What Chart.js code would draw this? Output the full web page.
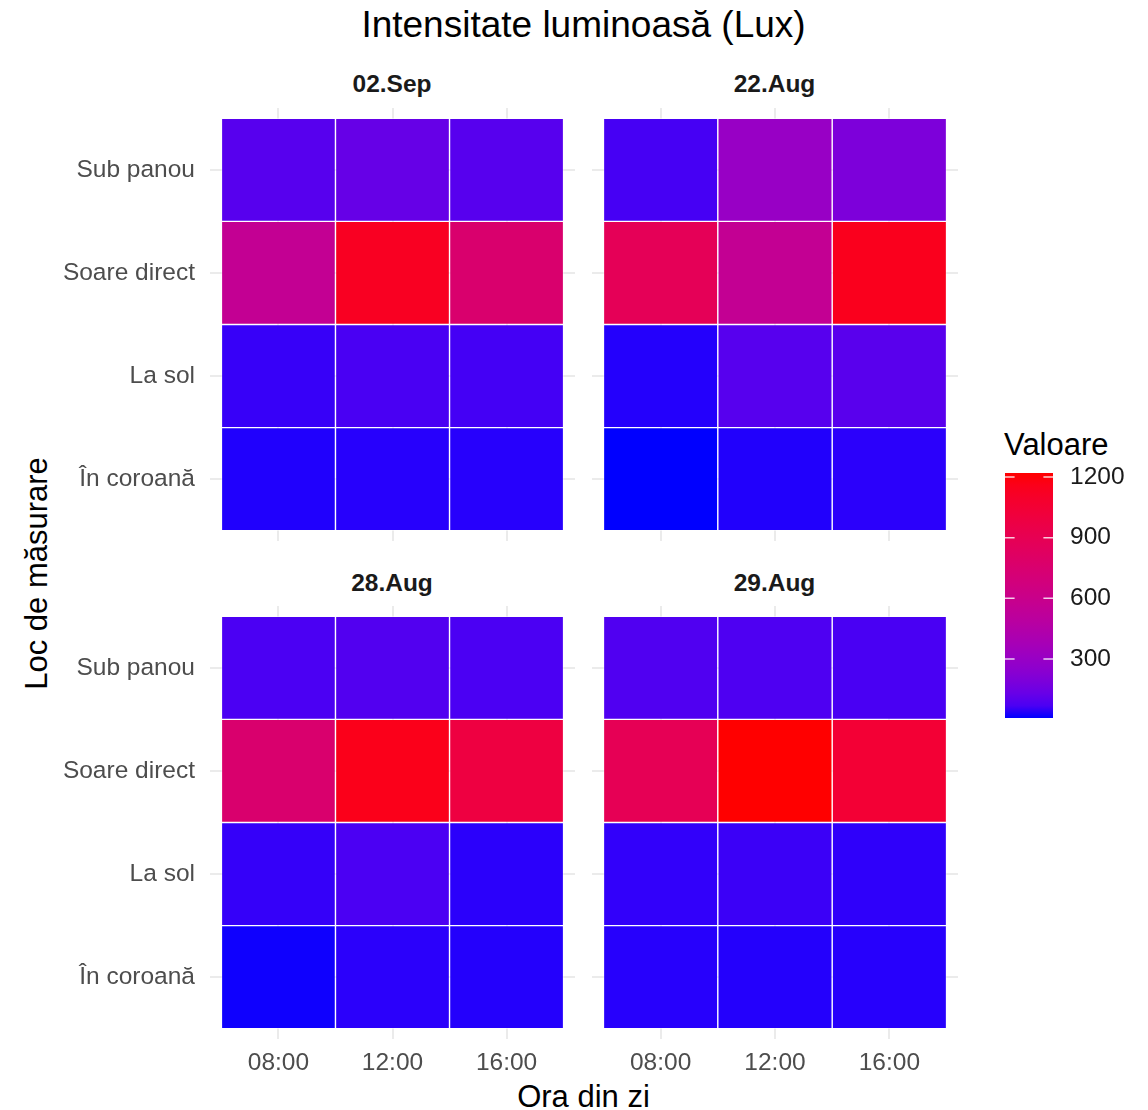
<!DOCTYPE html>
<html>
<head>
<meta charset="utf-8">
<script src="https://cdn.jsdelivr.net/npm/chart.js@4.4.1/dist/chart.umd.min.js"></script>
<style>
body { margin:0; background:#fff; width:1148px; height:1110px; position:relative; overflow:hidden;
       font-family:"Liberation Sans", Arial, sans-serif; }
.t { position:absolute; line-height:1; white-space:nowrap; }
.c { width:800px; text-align:center; }
canvas { position:absolute; }
</style>
</head>
<body>
<div class="t c" style="left:183.5px; top:6px; font-size:37px; color:#000">Intensitate luminoasă (Lux)</div>
<div class="t c" style="left:-8px; top:72.3px; font-size:24.5px; font-weight:bold; color:#1a1a1a">02.Sep</div>
<div class="t c" style="left:374.5px; top:72.3px; font-size:24.5px; font-weight:bold; color:#1a1a1a">22.Aug</div>
<div class="t c" style="left:-8px; top:570.8px; font-size:24.5px; font-weight:bold; color:#1a1a1a">28.Aug</div>
<div class="t c" style="left:374.5px; top:570.8px; font-size:24.5px; font-weight:bold; color:#1a1a1a">29.Aug</div>
<div class="t c" style="left:183.5px; top:1081px; font-size:31px; color:#000">Ora din zi</div>
<div class="t c" style="left:-363.7px; top:558px; font-size:31px; color:#000; transform:rotate(-90deg)">Loc de măsurare</div>
<div class="t" style="left:1004px; top:429px; font-size:31px; color:#000">Valoare</div>
<script>
// date (lux)
const ore = ['08:00', '12:00', '16:00'];
const locuri = ['Sub panou', 'Soare direct', 'La sol', 'În coroană'];
const zile = ['02.Sep', '22.Aug', '28.Aug', '29.Aug'];
// randuri = locuri, coloane = ore
const sep02 = [[90, 125, 90], [560, 1130, 760], [40, 65, 58], [20, 25, 25]];
const aug22 = [[60, 300, 190], [880, 560, 1150], [23, 90, 95], [8, 21, 28]];
const aug28 = [[68, 80, 68], [760, 1160, 990], [38, 68, 28], [12, 28, 23]];
const aug29 = [[77, 73, 65], [890, 1220, 1050], [35, 45, 32], [25, 23, 25]];
const legendaTicks = [300, 600, 900, 1200];

const valori = [sep02, aug22, aug28, aug29];
const F = '"Liberation Sans", Arial, sans-serif';

// gradient albastru -> rosu interpolat in Lab (ca scale_fill_gradient)
function lin(c) { c /= 255; return c <= 0.04045 ? c / 12.92 : Math.pow((c + 0.055) / 1.055, 2.4); }
function gam(c) {
    c = c <= 0.0031308 ? 12.92 * c : 1.055 * Math.pow(c, 1 / 2.4) - 0.055;
    return Math.round(Math.max(0, Math.min(1, c)) * 255);
}
function toLab(rgb) {
    let [r, g, b] = rgb.map(lin);
    let x = (0.4124 * r + 0.3576 * g + 0.1805 * b) / 0.95047;
    let y = 0.2126 * r + 0.7152 * g + 0.0722 * b;
    let z = (0.0193 * r + 0.1192 * g + 0.9505 * b) / 1.08883;
    const f = t => t > 0.008856 ? Math.cbrt(t) : 7.787 * t + 16 / 116;
    x = f(x); y = f(y); z = f(z);
    return [116 * y - 16, 500 * (x - y), 200 * (y - z)];
}
function fromLab([L, a, bb]) {
    const fy = (L + 16) / 116, fx = fy + a / 500, fz = fy - bb / 200;
    const fi = t => t ** 3 > 0.008856 ? t ** 3 : (t - 16 / 116) / 7.787;
    const x = fi(fx) * 0.95047, y = fi(fy), z = fi(fz) * 1.08883;
    return [gam(3.2406 * x - 1.5372 * y - 0.4986 * z),
            gam(-0.9689 * x + 1.8758 * y + 0.0415 * z),
            gam(0.0557 * x - 0.2040 * y + 1.0570 * z)];
}
const labLow = toLab([0, 0, 255]), labHigh = toLab([255, 0, 0]);
const toate = valori.flat(2);
const vMin = Math.min(...toate), vMax = Math.max(...toate);
function culoare(v) {
    const t = (v - vMin) / (vMax - vMin);
    return 'rgb(' + fromLab(labLow.map((l, i) => l + (labHigh[i] - l) * t)).join(',') + ')';
}

// fara padding automat din etichete
function fix(w, h) {
    return s => {
        if (w !== null) s.width = w;
        if (h !== null) s.height = h;
        s.paddingLeft = s.paddingRight = s.paddingTop = s.paddingBottom = 0;
    };
}

function panou(k, left, top, showY, showX) {
    const cv = document.createElement('canvas');
    cv.width = showY ? 575 : 366;
    cv.height = 433 + (showX ? 60 : 0);
    cv.style.left = left + 'px';
    cv.style.top = top + 'px';
    document.body.appendChild(cv);

    const pts = [], cols = [];
    valori[k].forEach((row, r) => row.forEach((v, c) => {
        pts.push({ x: c + 1, y: [r + 0.5, r + 1.5] });
        cols.push(culoare(v));
    }));

    new Chart(cv, {
        type: 'bar',
        data: { datasets: [{
            label: zile[k], data: pts, backgroundColor: cols,
            borderColor: 'rgba(255,255,255,0.85)', borderWidth: 0.7, borderSkipped: false,
            barPercentage: 1, categoryPercentage: 1, inflateAmount: 0
        }] },
        options: {
            responsive: false, animation: false, events: [],
            layout: { padding: 0 },
            plugins: { legend: { display: false }, tooltip: { enabled: false } },
            scales: {
                x: {
                    type: 'linear', min: 0.4, max: 3.6, offset: false,
                    afterBuildTicks: s => { s.ticks = ore.map((o, i) => ({ value: i + 1 })) },
                    afterFit: fix(null, showX ? 60 : 0),
                    grid: { color: '#EBEBEB', lineWidth: 2, drawTicks: false, offset: false },
                    border: { display: false },
                    ticks: { display: showX, padding: 10, color: '#4D4D4D', autoSkip: false, maxRotation: 0,
                             font: { size: 24.5, family: F }, callback: v => ore[v - 1] }
                },
                y: {
                    type: 'linear', min: 0.4, max: 4.6, reverse: true, offset: false,
                    afterBuildTicks: s => { s.ticks = locuri.map((o, i) => ({ value: i + 1 })) },
                    afterFit: fix(showY ? 210 : 0, null),
                    grid: { color: '#EBEBEB', lineWidth: 2, drawTicks: false, offset: false },
                    border: { display: false },
                    ticks: { display: showY, padding: 15, color: '#4D4D4D', autoSkip: false,
                             font: { size: 24.5, family: F }, callback: v => locuri[v - 1] }
                }
            }
        }
    });
}

panou(0, 0, 108, true, false);
panou(1, 592, 108, false, false);
panou(2, 0, 606, true, true);
panou(3, 592, 606, false, true);

// bara de culori a legendei
const lc = document.createElement('canvas');
lc.width = 140; lc.height = 275;
lc.style.left = '1005px'; lc.style.top = '458px';
document.body.appendChild(lc);
new Chart(lc, {
    type: 'bar',
    data: { labels: ['Valoare'], datasets: [{
        data: [[vMin, vMax]], borderWidth: 0, barPercentage: 1, categoryPercentage: 1, inflateAmount: 0,
        backgroundColor: ctx => {
            const a = ctx.chart.chartArea;
            if (!a) return null;
            const g = ctx.chart.ctx.createLinearGradient(0, a.bottom, 0, a.top);
            for (let i = 0; i <= 20; i++) g.addColorStop(i / 20, culoare(vMin + (vMax - vMin) * i / 20));
            return g;
        }
    }] },
    options: {
        responsive: false, animation: false, events: [],
        layout: { padding: { top: 15, bottom: 15 } },
        plugins: { legend: { display: false }, tooltip: { enabled: false } },
        scales: {
            x: { display: false },
            y: {
                position: 'right', min: vMin, max: vMax,
                afterBuildTicks: s => { s.ticks = legendaTicks.map(v => ({ value: v })) },
                afterFit: fix(92, null),
                grid: { display: false, drawTicks: false }, border: { display: false },
                ticks: { padding: 17, color: '#1a1a1a', font: { size: 24.5, family: F }, callback: v => String(v) }
            }
        }
    },
    plugins: [{
        id: 'liniute',
        afterDatasetsDraw(ch) {
            const y = ch.scales.y, a = ch.chartArea, c = ch.ctx;
            c.save();
            c.strokeStyle = 'rgba(255,255,255,0.8)';
            c.lineWidth = 1.5;
            legendaTicks.forEach(v => {
                const p = y.getPixelForValue(v);
                c.beginPath();
                c.moveTo(a.left, p); c.lineTo(a.left + a.width * 0.2, p);
                c.moveTo(a.right - a.width * 0.2, p); c.lineTo(a.right, p);
                c.stroke();
            });
            c.restore();
        }
    }]
});
</script>
</body>
</html>
